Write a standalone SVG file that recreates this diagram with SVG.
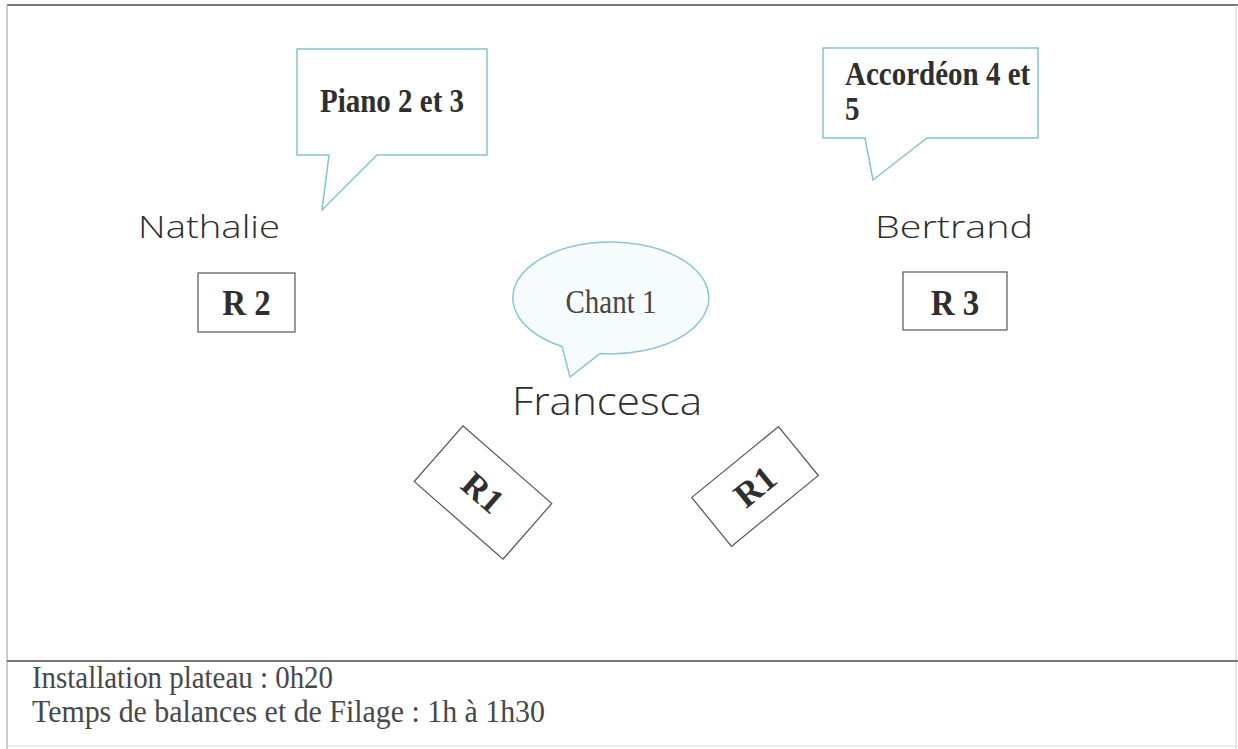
<svg xmlns="http://www.w3.org/2000/svg" width="1238" height="749" viewBox="0 0 1238 749">
<style>
.frame{fill:none}
.callout{fill:#ffffff;stroke:#86c3d1;stroke-width:1.5;stroke-linejoin:miter}
.bubble{fill:#f6fbfd;stroke:#8cc6d6;stroke-width:1.5}
.box{fill:#ffffff;stroke:#555;stroke-width:1.2}
.bold{font-family:"Liberation Serif","Times New Roman",serif;font-weight:bold;fill:#2f2f2f}
.reg{font-family:"Liberation Serif","Times New Roman",serif;fill:#484848}
.hand{font-family:"Open Sans","DejaVu Sans",sans-serif;font-weight:300;fill:#2e2e2e}
</style>
<rect x="0" y="0" width="1238" height="749" fill="#ffffff"/>
<g id="frame">
<line class="frame" x1="7" y1="5" x2="1238" y2="5" stroke-width="2" stroke="#777"/>
<line class="frame" x1="7" y1="5" x2="7" y2="749" stroke-width="1.5" stroke="#bbb"/>
<line class="frame" x1="1236" y1="5" x2="1236" y2="749" stroke-width="1" stroke="#ccc"/>
<line class="frame" x1="7" y1="661" x2="1238" y2="661" stroke-width="2" stroke="#777"/>
<line class="frame" x1="7" y1="746" x2="1238" y2="746" stroke-width="1" stroke="#ddd"/>
</g>
<g id="callout-piano">
<path class="callout" d="M297,49 H487 V155 H377 L322,210 L329,155 H297 Z"/>
<text class="bold" transform="translate(392,112) scale(1,1.13)" font-size="29" text-anchor="middle">Piano 2 et 3</text>
</g>
<g id="callout-accordeon">
<path class="callout" d="M823,48 H1038 V138 H927 L873,180 L865,138 H823 Z"/>
<text class="bold" transform="translate(845,85) scale(1,1.13)" font-size="29">Accordéon 4 et</text>
<text class="bold" transform="translate(845,120) scale(1,1.13)" font-size="29">5</text>
</g>
<g id="bubble-chant">
<path class="bubble" d="M562,346.5 L570,377 L600,353.6 A98,56 0 1 0 562,346.5 Z"/>
<text class="reg" transform="translate(611,313) scale(1,1.13)" font-size="29" text-anchor="middle">Chant 1</text>
</g>
<g id="name-nathalie">
<text class="hand" x="138" y="238" font-size="32" textLength="142" lengthAdjust="spacingAndGlyphs">Nathalie</text>
</g>
<g id="name-bertrand">
<text class="hand" x="875" y="238" font-size="32" textLength="158" lengthAdjust="spacingAndGlyphs">Bertrand</text>
</g>
<g id="name-francesca">
<text class="hand" x="512" y="415" font-size="39" textLength="190" lengthAdjust="spacingAndGlyphs">Francesca</text>
</g>
<g id="r2">
<rect class="box" x="198" y="273" width="97" height="59"/>
<text class="bold" transform="translate(246.5,315) scale(1,1.1)" font-size="33" text-anchor="middle">R 2</text>
</g>
<g id="r3">
<rect class="box" x="903" y="272" width="104" height="58"/>
<text class="bold" transform="translate(955,315) scale(1,1.1)" font-size="33" text-anchor="middle">R 3</text>
</g>
<g id="r1-left" transform="translate(483,492.5) rotate(41.2)">
<rect class="box" x="-59" y="-37" width="118" height="74"/>
<text class="bold" x="0" y="12" font-size="35" text-anchor="middle">R1</text>
</g>
<g id="r1-right" transform="translate(755,486.5) rotate(-39.2)">
<rect class="box" x="-56" y="-31.5" width="112" height="63"/>
<text class="bold" x="0" y="12" font-size="35" text-anchor="middle">R1</text>
</g>
<g id="footer">
<text class="reg" transform="translate(32,688) scale(1,1.1)" font-size="28.8" textLength="301" lengthAdjust="spacingAndGlyphs">Installation plateau : 0h20</text>
<text class="reg" transform="translate(32,722) scale(1,1.1)" font-size="28.8" textLength="513" lengthAdjust="spacingAndGlyphs">Temps de balances et de Filage : 1h à 1h30</text>
</g>
</svg>
